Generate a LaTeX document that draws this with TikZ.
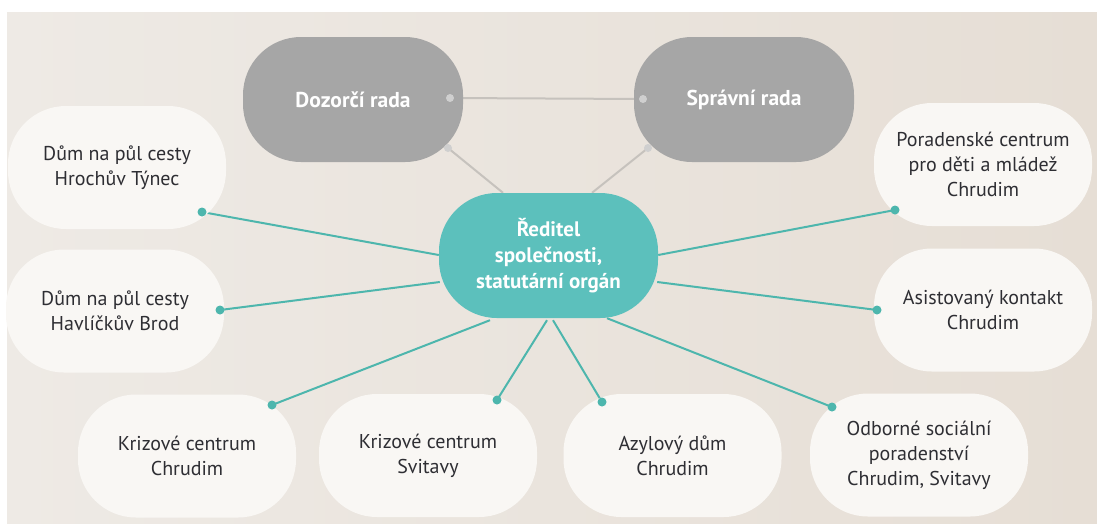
\documentclass[tikz,border=0pt]{standalone}
\usepackage{fontspec}
\setmainfont{PT Sans}
\usetikzlibrary{calc,backgrounds}
\definecolor{bgleft}{HTML}{EEEAE5}
\definecolor{bgright}{HTML}{E6DED5}
\definecolor{boxwhite}{HTML}{F9F7F4}
\definecolor{boxgray}{HTML}{A6A6A6}
\definecolor{tealnode}{HTML}{5CC0BC}
\definecolor{tealline}{HTML}{4DB6AD}
\definecolor{linegray}{HTML}{C6C2BD}
\definecolor{dotgray}{HTML}{CFCFCF}
\definecolor{txtdark}{HTML}{2E2E33}
\pgfdeclarelayer{bgzero}
\pgfsetlayers{bgzero,background,main}
\begin{document}
\begin{tikzpicture}[x=1pt,y=-1pt,
  wbox/.style={rectangle, rounded corners=58pt, fill=boxwhite, minimum width=218pt, minimum height=123pt, align=center, text=txtdark, font=\fontsize{20}{25}\selectfont, inner sep=0pt},
  gbox/.style={rectangle, rounded corners=58pt, fill=boxgray, minimum width=220pt, minimum height=125pt, align=center, text=white, font=\bfseries\fontsize{21.5}{26}\selectfont, inner sep=0pt},
  cbox/.style={rectangle, rounded corners=58pt, fill=tealnode, minimum width=219pt, minimum height=125pt, align=center, text=white, font=\bfseries\fontsize{21}{26}\selectfont, inner sep=0pt},
  tdot/.style={circle, fill=tealline, inner sep=0pt, minimum size=9pt},
  gdot/.style={circle, fill=dotgray, inner sep=0pt, minimum size=8pt},
  tline/.style={draw=tealline, line width=2pt},
  gline/.style={draw=linegray, line width=2pt}]
\useasboundingbox (0,0) rectangle (1097,531);
\begin{pgfonlayer}{bgzero}
\fill[white] (0,0) rectangle (1097,531);
\shade[left color=bgleft, right color=bgright] (7,12) rectangle (1097,523);
\end{pgfonlayer}

% gray boxes
\node[gbox] (dozor) at (353,99.5) {Dozorčí rada};
\node[gbox] (sprav) at (744,99.5) {Správní rada};
% center
\node[cbox] (ctr) at (548.5,255.5) {Ředitel\\společnosti,\\statutární orgán};
% white boxes
\node[wbox] (hroch) at (117,167.5) {Dům na půl cesty\\Hrochův Týnec};
\node[wbox] (havl) at (115,311) {Dům na půl cesty\\Havlíčkův Brod};
\node[wbox] (pora) at (983,164.5) {Poradenské centrum\\pro děti a mládež\\Chrudim};
\node[wbox] (asis) at (983,310) {Asistovaný kontakt\\Chrudim};
\node[wbox] (krch) at (187,456) {Krizové centrum\\Chrudim};
\node[wbox] (krsv) at (428,455.5) {Krizové centrum\\Svitavy};
\node[wbox] (azyl) at (672.5,455.5) {Azylový dům\\Chrudim};
\node[wbox] (odb) at (919,455) {Odborné sociální\\poradenství\\Chrudim, Svitavy};

% dots
\node[gdot] (gd1) at (450,98) {};
\node[gdot] (gd2) at (643,99) {};
\node[gdot] (gd3) at (448,148) {};
\node[gdot] (gd4) at (648,148) {};
\node[tdot] (d1) at (202,212) {};
\node[tdot] (d2) at (220,310) {};
\node[tdot] (d3) at (272,405) {};
\node[tdot] (d4) at (497,400) {};
\node[tdot] (d5) at (602,402) {};
\node[tdot] (d6) at (832,407) {};
\node[tdot] (d7) at (877,310) {};
\node[tdot] (d8) at (895,210) {};

\begin{pgfonlayer}{background}
\draw[gline] (gd1.center) -- (gd2.center);
\draw[gline] (gd3.center) -- ($(ctr.north)+(-45.5,0)$);
\draw[gline] (gd4.center) -- ($(ctr.north)+(43.5,0)$);
\draw[tline] (d1.center) -- ($(ctr.west)+(0,-0.5)$);
\draw[tline] (d2.center) -- ($(ctr.west)+(1,26.5)$);
\draw[tline] (d3.center) -- ($(ctr.south)+(-58.5,2)$);
\draw[tline] (d4.center) -- ($(ctr.south)+(-1.5,2)$);
\draw[tline] (d5.center) -- ($(ctr.south)+(4.5,2)$);
\draw[tline] (d6.center) -- ($(ctr.south)+(58.5,0)$);
\draw[tline] (d7.center) -- ($(ctr.east)+(-1,26.5)$);
\draw[tline] (d8.center) -- ($(ctr.east)+(0,-0.5)$);
\end{pgfonlayer}
\end{tikzpicture}
\end{document}
